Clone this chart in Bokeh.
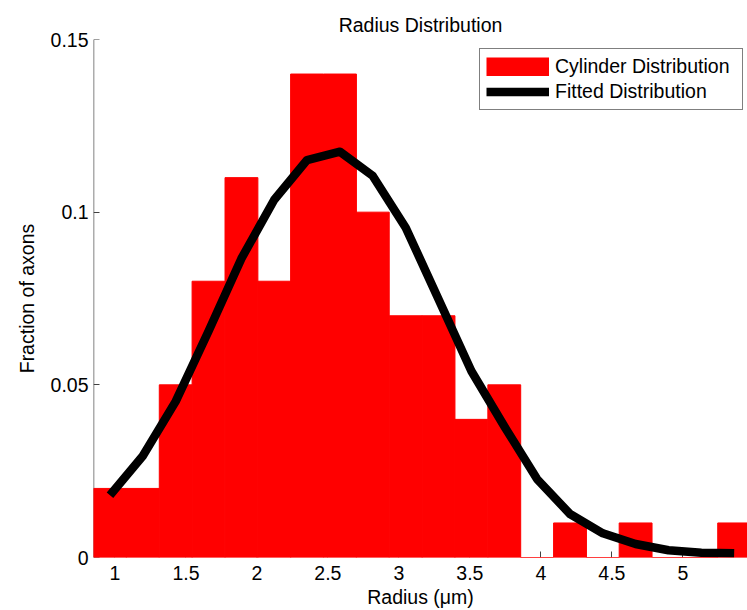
from bokeh.plotting import figure
from bokeh.models import Range1d, FixedTicker, Legend, LegendItem, LinearAxis
from bokeh.embed import file_html
from bokeh.resources import INLINE

# ---- data ----
bin_centers = [0.965, 1.196, 1.428, 1.659, 1.891, 2.122, 2.353, 2.585, 2.816, 3.048,
               3.279, 3.510, 3.742, 3.973, 4.205, 4.436, 4.667, 4.899, 5.130, 5.361]
bin_width = 0.2314
fractions = [0.02, 0.02, 0.05, 0.08, 0.11, 0.08, 0.14, 0.14, 0.10, 0.07,
             0.07, 0.04, 0.05, 0.0, 0.01, 0.0, 0.01, 0.0, 0.0, 0.01]
fitted = [0.0180, 0.0294, 0.0452, 0.0655, 0.0866, 0.1036, 0.1151, 0.1175, 0.1105, 0.0955,
          0.0748, 0.0540, 0.0380, 0.0227, 0.0126, 0.0070, 0.0039, 0.0021, 0.0014, 0.0012]
x_ticks = [1, 1.5, 2, 2.5, 3, 3.5, 4, 4.5, 5]
x_tick_labels = ["1", "1.5", "2", "2.5", "3", "3.5", "4", "4.5", "5"]
y_ticks = [0, 0.05, 0.1, 0.15]
y_tick_labels = ["0", "0.05", "0.1", "0.15"]

FONT = "Liberation Sans"
FS = "19.5px"

p = figure(width=747, height=610, output_backend="svg", toolbar_location=None,
           x_range=Range1d(0.849, 5.455), y_range=Range1d(0, 0.15),
           x_axis_location=None, y_axis_location=None,
           min_border_left=93, min_border_right=0, min_border_top=39, min_border_bottom=53)

p.outline_line_color = None
p.xgrid.visible = False
p.ygrid.visible = False
p.background_fill_color = None
p.border_fill_color = None

bars = p.vbar(x=bin_centers, width=bin_width, top=fractions, bottom=0,
              fill_color="#ff0000", line_color="#ff0000", line_width=1)
line = p.line(x=bin_centers, y=fitted, line_color="black", line_width=8.5,
              line_join="round")
# legend swatch for the histogram (fills the whole glyph box, like the reference)
swatch = p.line(x=[float("nan")], y=[float("nan")], line_color="#ff0000", line_width=19)

# title
p.title.text = "Radius Distribution"
p.title.align = "center"
p.title.vertical_align = "top"
p.title.text_font = FONT
p.title.text_font_size = FS
p.title.text_font_style = "normal"
p.title.text_color = "black"
p.title.standoff = 4

# ---- axes: tick-only axes drawn beneath the bars, label axes on top ----
xt = LinearAxis(ticker=FixedTicker(ticks=x_ticks), level="underlay",
                axis_line_color=None, major_tick_in=6, major_tick_out=0,
                major_tick_line_color="#404040", minor_tick_line_color=None,
                major_label_text_font_size="1px", major_label_text_color=None,
                major_label_standoff=0)
p.add_layout(xt, "below")
xl = LinearAxis(ticker=FixedTicker(ticks=x_ticks),
                axis_line_color=None, major_tick_line_color=None, minor_tick_line_color=None,
                major_tick_in=0, major_tick_out=0,
                major_label_overrides={t: l for t, l in zip(x_ticks, x_tick_labels)},
                major_label_standoff=8, major_label_text_font=FONT,
                major_label_text_font_size=FS, major_label_text_color="black",
                axis_label="Radius (\u03bcm)", axis_label_text_font=FONT,
                axis_label_text_font_size=FS, axis_label_text_font_style="normal",
                axis_label_text_color="black", axis_label_standoff=3)
p.add_layout(xl, "below")

yt = LinearAxis(ticker=FixedTicker(ticks=y_ticks), level="underlay",
                axis_line_color="#5a5a5a", axis_line_width=1.5,
                major_tick_in=6, major_tick_out=0,
                major_tick_line_color="#404040", minor_tick_line_color=None,
                major_label_text_font_size="1px", major_label_text_color=None,
                major_label_standoff=0)
p.add_layout(yt, "left")
yl = LinearAxis(ticker=FixedTicker(ticks=y_ticks),
                axis_line_color=None, major_tick_line_color=None, minor_tick_line_color=None,
                major_tick_in=0, major_tick_out=0,
                major_label_overrides={t: l for t, l in zip(y_ticks, y_tick_labels)},
                major_label_standoff=5, major_label_text_font=FONT,
                major_label_text_font_size=FS, major_label_text_color="black",
                axis_label="Fraction of axons", axis_label_text_font=FONT,
                axis_label_text_font_size=FS, axis_label_text_font_style="normal",
                axis_label_text_color="black", axis_label_standoff=10)
p.add_layout(yl, "left")

legend = Legend(items=[LegendItem(label="Cylinder Distribution", renderers=[swatch]),
                       LegendItem(label="Fitted Distribution", renderers=[line])],
                location=(386, 447),
                padding=6, spacing=2, margin=0,
                glyph_width=63, glyph_height=19, label_height=20, label_width=181,
                label_standoff=6,
                label_text_font=FONT, label_text_font_size=FS, label_text_color="black",
                border_line_color="black", border_line_width=1.2,
                background_fill_color="white", background_fill_alpha=1.0)
p.add_layout(legend, "center")

open("out.html", "w").write(file_html(p, INLINE))
